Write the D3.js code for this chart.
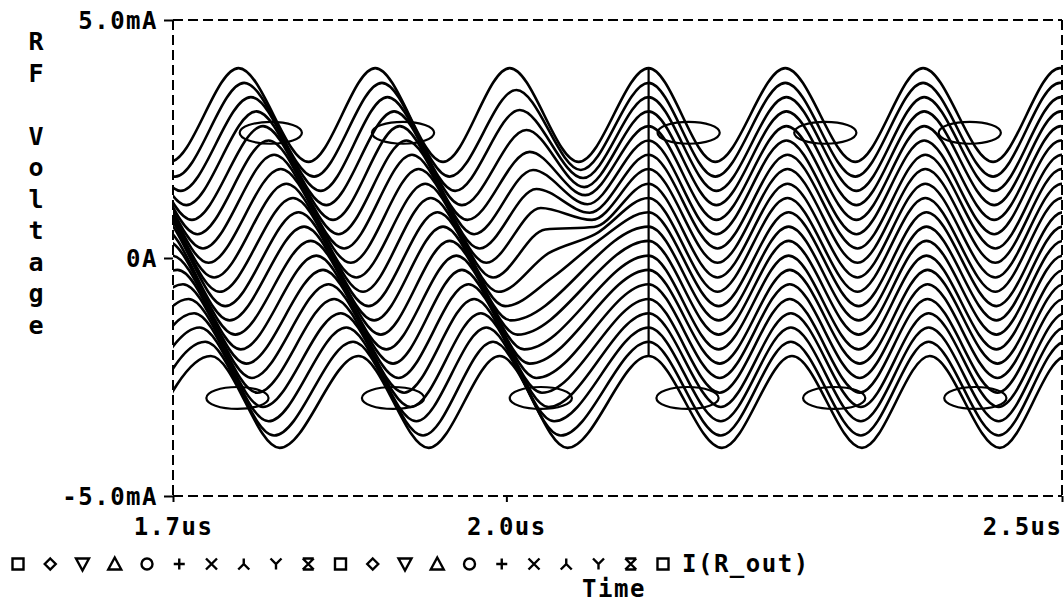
<!DOCTYPE html>
<html>
<head>
<meta charset="utf-8">
<script src="https://cdn.jsdelivr.net/npm/d3@7"></script>
<style>
  body { margin: 0; background: #fff; }
  text { font-family: "DejaVu Sans Mono", monospace; font-weight: bold; fill: #000; }
</style>
</head>
<body>
<script>
//Axis ticks and titles
        const xTicks = [1.7, 2.0, 2.5];
        const xTickLabels = ["1.7us", "2.0us", "2.5us"];
        const yTicks = [5, 0, -5];
        const yTickLabels = ["5.0mA", "0A", "-5.0mA"];
        const yTitle = "RF Voltage";
        const xTitle = "Time";
        const seriesName = "I(R_out)";

    //Extremum times (us) of the top trace, trough / peak / trough ...
        const topExtremaT = [1.574, 1.635, 1.697, 1.759, 1.822, 1.882, 1.943, 2.003, 2.065,
                             2.128, 2.188, 2.251, 2.314, 2.375, 2.438, 2.498, 2.560];

    //Peak and trough level of each of the 21 traces (mA)
        const peakI = [3.99, 3.68, 3.38, 3.08, 2.77, 2.47, 2.17, 1.87, 1.56, 1.26, 0.96,
                       0.66, 0.36, 0.05, -0.25, -0.55, -0.86, -1.16, -1.46, -1.76, -2.06];
        const troughI = [2.02, 1.71, 1.41, 1.11, 0.80, 0.50, 0.20, -0.10, -0.41, -0.71, -1.01,
                         -1.31, -1.61, -1.92, -2.22, -2.52, -2.83, -3.13, -3.43, -3.73, -3.99];

    //Delay of each trace behind the top one (ns), early part / 1st period / 2nd period / right part
        const lagEarly = [0, 5, 10, 15, 20, 25, 30, 35, 40, 45, 50, 54, 59, 64, 69, 74, 79, 84, 89, 94, 99];
        const lagP1 = [0, 5, 11, 16, 22, 27, 32, 38, 43, 49, 54, 59, 65, 70, 76, 81, 86, 92, 97, 103, 108];
        const lagP2 = [0, 6, 11, 17, 22, 28, 33, 39, 45, 50, 56, 61, 67, 73, 78, 84, 89, 95, 100, 106, 112];
        const lagRight = [0, 0, 1, 1, 1, 1, 2, 2, 2, 2, 3, 3, 3, 3, 4, 4, 4, 5, 5, 5, 6];

    //Third period of the upper traces, before the peaks line up at 2.13us: level (mA) and delay (ns)
        const midPeakI = [3.99, 3.53, 3.11, 2.69, 2.23, 1.85, 1.45, 1.05, 0.60, 0.10, -0.40];
        const midTroughI = [2.02, 1.85, 1.68, 1.49, 1.32, 1.13, 0.95, 0.80, 0.65, 0.50, 0.35];
        const lagMidPeak = [0, 6, 9, 15, 18, 21, 24, 28, 32, 35, 39];
        const lagMidTrough = [0, 2, 4, 5, 6, 8, 10, 12, 14, 15, 17];

    //Loops (time us, current mA)
        const loopTopT = [1.788, 1.907, 2.164, 2.287, 2.417];
        const loopTopI = 2.63;
        const loopBottomT = [1.758, 1.898, 2.031, 2.163, 2.295, 2.422];
        const loopBottomI = -2.94;
        const loopHalfT = 0.028;
        const loopHalfI = 0.23;

    //Legend markers
        const legendMarkers = ["square", "diamond", "triDown", "triUp", "circle", "plus", "cross", "lambda", "wye", "hourglass",
                               "square", "diamond", "triDown", "triUp", "circle", "plus", "cross", "lambda", "wye", "hourglass",
                               "square"];

//Consts
        const width = 1064;
        const height = 603;
        const plotLeft = 173, plotRight = 1062, plotTop = 20, plotBottom = 496;

        const svg = d3.select("body")
            .append("svg")
            .attr("width", width)
            .attr("height", height);

    //Scales
        const xScale = d3.scaleLinear()
                        .domain([1.7, 2.5])
                        .range([plotLeft, plotRight]);
        const yScale = d3.scaleLinear()
                        .domain([-5, 5])
                        .range([plotBottom, plotTop]);

    //Build each trace from its extrema
        const traces = d3.range(peakI.length).map(k => {
            const pts = [];
            topExtremaT.forEach((t0, i) => {
                let lag;
                let v = i % 2 ? peakI[k] : troughI[k];
                if (i <= 2) lag = lagEarly[k];
                else if (i <= 4) lag = lagP1[k];
                else if (i <= 6) lag = lagP2[k];
                else if (i <= 8) {
                    if (k >= midPeakI.length) return;
                    lag = i === 7 ? lagMidPeak[k] : lagMidTrough[k];
                    v = i === 7 ? midPeakI[k] : midTroughI[k];
                }
                else if (i === 9) lag = 0;
                else lag = lagRight[k];
                pts.push({t: t0 + lag / 1000, v: v});
            });
            return pts;
        });

        svg.append("clipPath").attr("id", "plot")
            .append("rect")
            .attr("x", plotLeft).attr("y", plotTop)
            .attr("width", plotRight - plotLeft).attr("height", plotBottom - plotTop);

        const plot = svg.append("g").attr("clip-path", "url(#plot)");

    //Lines
        const line = d3.line()
                        .x(d => xScale(d.t))
                        .y(d => yScale(d.v))
                        .curve(d3.curveMonotoneX);

        plot.selectAll("path.trace")
            .data(traces)
            .join("path")
            .attr("class", "trace")
            .attr("fill", "none")
            .attr("stroke", "#000")
            .attr("stroke-width", 2.6)
            .attr("stroke-linejoin", "round")
            .attr("d", line);

    //Vertical line through the aligned peaks
        plot.append("line")
            .attr("x1", xScale(topExtremaT[9])).attr("x2", xScale(topExtremaT[9]))
            .attr("y1", yScale(peakI[0])).attr("y2", yScale(peakI[peakI.length - 1]))
            .attr("stroke", "#000")
            .attr("stroke-width", 2.2);

    //Loops
        const loops = loopTopT.map(t => ({t: t, v: loopTopI}))
                        .concat(loopBottomT.map(t => ({t: t, v: loopBottomI})));
        plot.selectAll("ellipse")
            .data(loops)
            .join("ellipse")
            .attr("cx", d => xScale(d.t))
            .attr("cy", d => yScale(d.v))
            .attr("rx", d => xScale(d.t + loopHalfT) - xScale(d.t))
            .attr("ry", d => yScale(d.v - loopHalfI) - yScale(d.v))
            .attr("fill", "none")
            .attr("stroke", "#000")
            .attr("stroke-width", 2.2);

    //Dashed frame
        const frame = svg.append("g")
            .attr("stroke", "#000")
            .attr("stroke-width", 2)
            .attr("stroke-dasharray", "10,5");
        frame.append("line").attr("x1", plotLeft).attr("x2", plotRight).attr("y1", plotTop).attr("y2", plotTop);
        frame.append("line").attr("x1", plotLeft).attr("x2", plotRight).attr("y1", plotBottom).attr("y2", plotBottom);
        frame.append("line").attr("x1", plotLeft).attr("x2", plotLeft).attr("y1", plotTop).attr("y2", plotBottom);
        frame.append("line").attr("x1", plotRight).attr("x2", plotRight).attr("y1", plotTop).attr("y2", plotBottom);

    //Axes
        const leftAxis = d3.axisLeft(yScale)
                            .tickValues(yTicks)
                            .tickFormat((d, i) => yTickLabels[i])
                            .tickSize(9)
                            .tickPadding(6);
        const gy = svg.append("g")
            .attr("transform", "translate(" + plotLeft + ",0)")
            .call(leftAxis);
        gy.select(".domain").remove();
        gy.selectAll("line").attr("stroke", "#000").attr("stroke-width", 2);
        gy.selectAll("text")
            .attr("font-size", 24)
            .attr("letter-spacing", 1.5)
            .attr("dy", "0.36em")
            .style("font-family", "DejaVu Sans Mono")
            .style("font-weight", "bold");

        const bottomAxis = d3.axisBottom(xScale)
                            .tickValues(xTicks)
                            .tickFormat((d, i) => xTickLabels[i])
                            .tickSize(6)
                            .tickPadding(16);
        const gx = svg.append("g")
            .attr("transform", "translate(0," + plotBottom + ")")
            .call(bottomAxis);
        gx.select(".domain").remove();
        gx.selectAll("line").attr("stroke", "#000").attr("stroke-width", 2);
        gx.selectAll("text")
            .attr("font-size", 24)
            .attr("letter-spacing", 1.5)
            .style("font-family", "DejaVu Sans Mono")
            .style("font-weight", "bold")
            .attr("text-anchor", (d, i) => i === xTicks.length - 1 ? "end" : "middle");

    //Y title, one letter per row
        svg.append("g")
            .selectAll("text")
            .data(yTitle.split(""))
            .join("text")
            .attr("x", 36)
            .attr("y", (d, i) => 50 + i * 31.5)
            .attr("text-anchor", "middle")
            .attr("font-size", 25)
            .text(d => d);

    //Legend markers
        const s = 5.5;
        const markerPath = {
            square: `M${-s},${-s}H${s}V${s}H${-s}Z`,
            diamond: `M0,${-s}L${s},0L0,${s}L${-s},0Z`,
            triDown: `M${-s - 1},${-s}H${s + 1}L0,${s + 1}Z`,
            triUp: `M0,${-s - 1}L${s + 1},${s}H${-s - 1}Z`,
            circle: `M${s},0A${s},${s} 0 1,1 ${-s},0A${s},${s} 0 1,1 ${s},0Z`,
            plus: `M${-s},0H${s}M0,${-s}V${s}`,
            cross: `M${-s},${-s}L${s},${s}M${s},${-s}L${-s},${s}`,
            lambda: `M0,${-s}V0L${-s},${s}M0,0L${s},${s}`,
            wye: `M${-s},${-s}L0,0L${s},${-s}M0,0V${s}`,
            hourglass: `M${-s},${-s}H${s}M${-s},${s}H${s}M${-s},${-s}L${s},${s}M${s},${-s}L${-s},${s}`
        };
        const legendY = 564;
        svg.append("g")
            .selectAll("path")
            .data(legendMarkers)
            .join("path")
            .attr("transform", (d, i) => "translate(" + (18 + i * 32.25) + "," + legendY + ")")
            .attr("d", d => markerPath[d])
            .attr("fill", "none")
            .attr("stroke", "#000")
            .attr("stroke-width", 2.4);

        svg.append("text")
            .attr("x", 682)
            .attr("y", legendY + 8)
            .attr("font-size", 24)
            .attr("letter-spacing", 1.5)
            .text(seriesName);

        svg.append("text")
            .attr("x", 614)
            .attr("y", 597)
            .attr("text-anchor", "middle")
            .attr("font-size", 24)
            .attr("letter-spacing", 1.5)
            .text(xTitle);
</script>
</body>
</html>
